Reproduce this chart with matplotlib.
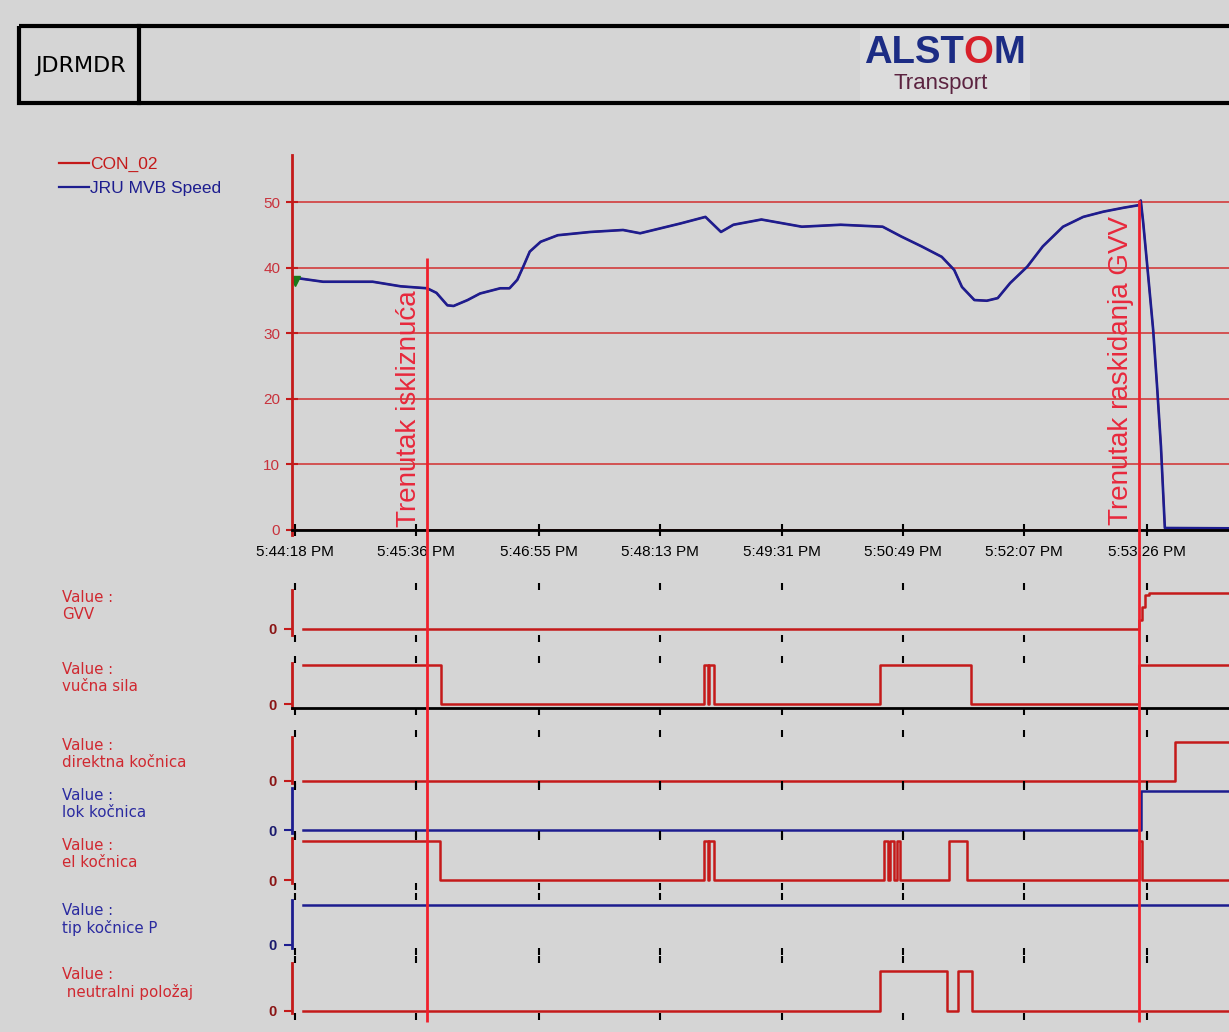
import matplotlib.pyplot as plt
from matplotlib.patches import Rectangle

plt.rcParams['font.family'] = ['Liberation Sans', 'DejaVu Sans']

W, H = 1229, 1032
BG = '#d5d5d5'
RED = '#c41a1a'
BLUE = '#1d1d8f'
TXT_RED = '#d02830'
TXT_BLUE = '#2a2aa0'

# vrijeme u sekundama od 5:44:18 PM
tick_t = [0, 78, 157, 235, 313, 391, 469, 548, 626]
tick_lbl = ['5:44:18 PM', '5:45:36 PM', '5:46:55 PM', '5:48:13 PM', '5:49:31 PM',
            '5:50:49 PM', '5:52:07 PM', '5:53:26 PM', '5:54:44 PM']

# brzina (JRU MVB Speed / CON_02)
speed_t = [0, 18, 50, 68, 85, 91, 98, 102, 111, 119,
           132, 138, 143, 147, 151, 158, 169, 190, 211, 222,
           248, 264, 274, 282, 300, 326, 351, 378, 390, 403,
           416, 424, 429, 437, 445, 452, 460, 471, 481, 494,
           507, 520, 533, 543, 544, 545.5, 548, 552, 554.5, 557,
           559.5, 646]
speed_v = [38.5, 37.9, 37.9, 37.2, 36.9, 36.2, 34.3, 34.2, 35.1, 36.1,
           36.9, 36.9, 38.2, 40.3, 42.5, 44.0, 45.0, 45.5, 45.8, 45.3,
           46.8, 47.8, 45.5, 46.6, 47.4, 46.3, 46.6, 46.3, 44.8, 43.3,
           41.7, 39.7, 37.1, 35.1, 35.0, 35.4, 37.7, 40.2, 43.3, 46.3,
           47.8, 48.6, 49.2, 49.6, 50.3, 47.1, 40.8, 30.5, 21.9, 12.7,
           0.3, 0.2]
marker_t = [0]
marker_v = [38.0]

# digitalni signali (step)
gvv_t = [5, 543, 544.5, 546.5, 549, 646]
gvv_v = [0, 0.25, 0.6, 0.95, 1, 1]
vucna_t = [5, 94, 263, 265.5, 266.5, 269.5, 376.5, 435, 543, 646]
vucna_v = [1, 0, 1, 0, 1, 0, 1, 0, 1, 1]
direktna_t = [5, 566, 646]
direktna_v = [0, 1, 1]
lok_t = [5, 544, 646]
lok_v = [0, 1, 1]
el_t = [5, 93, 263, 265.5, 266.5, 269.5, 379, 381.5, 383, 385.5, 387, 389, 420.5, 432, 543, 544.5, 646]
el_v = [1, 0, 1, 0, 1, 0, 1, 0, 1, 0, 1, 0, 1, 0, 1, 0, 0]
tip_t = [5, 646]
tip_v = [1, 1]
neutral_t = [5, 376.5, 419.5, 426.5, 435.5, 646]
neutral_v = [0, 1, 0, 1, 0, 0]

event_t = [85, 543]
event_lbl = ['Trenutak iskliznuća', 'Trenutak raskidanja GVV']

# piksel -> sekunde
X0, PPS = 295, 1.5547
L_PX, R_PX = 292, 1300
xlim = ((L_PX - X0) / PPS, (R_PX - X0) / PPS)


def fx(px):
    return px / W


def fy(py):
    return 1 - py / H


fig = plt.figure(figsize=(W / 100, H / 100), dpi=100, facecolor=BG)

# okvir za tekst i zaglavlje, u pikselima
lay = fig.add_axes([0, 0, 1, 1])
lay.set_xlim(0, W)
lay.set_ylim(H, 0)
lay.axis('off')
lay.add_patch(Rectangle((19, 26), 1300, 77, fill=False, ec='black', lw=3))
lay.plot([139, 139], [26, 103], color='black', lw=3)
lay.add_patch(Rectangle((860, 29), 170, 72, fc='#dcdcdc', ec='none'))
lay.text(80, 66, 'JDRMDR', ha='center', va='center', fontsize=16, family='DejaVu Sans')
a1 = lay.text(864, 63, 'ALST', fontsize=27.5, fontweight='bold', color='#1c2c84', va='baseline')
a2 = lay.annotate('O', xy=(1, 0), xycoords=a1, va='bottom', fontsize=27.5, fontweight='bold', color='#d8202a')
lay.annotate('M', xy=(1, 0), xycoords=a2, va='bottom', fontsize=27.5, fontweight='bold', color='#1c2c84')
lay.text(941, 84, 'Transport', ha='center', va='center', fontsize=16, color='#5b2340')

# gornji graf: brzina
ax = fig.add_axes([fx(L_PX), fy(535.2), fx(R_PX) - fx(L_PX), fy(155) - fy(535.2)])
ax.set_facecolor('none')
ax.plot(speed_t, speed_v, color=RED, lw=1.3, label='CON_02')
ax.plot(speed_t, speed_v, color=BLUE, lw=1.9, label='JRU MVB Speed')
ax.plot(marker_t, marker_v, marker='v', color='#1a7a1a', ms=7, ls='none')
ax.set_xlim(xlim)
ax.set_ylim(-0.8, 57.25)
ax.set_yticks(range(0, 60, 10))
ax.set_xticks(tick_t)
ax.set_xticklabels(tick_lbl)
ax.grid(axis='y', color='#d23c3c', lw=1.2)
ax.set_axisbelow(True)
for s in ['top', 'right']:
    ax.spines[s].set_visible(False)
ax.spines['left'].set_color(RED)
ax.spines['left'].set_linewidth(2)
ax.spines['bottom'].set_position(('data', 0))
ax.spines['bottom'].set_color('black')
ax.spines['bottom'].set_linewidth(2)
ax.tick_params(axis='x', direction='inout', length=9, width=1.5, color='black', labelsize=11, pad=6)
ax.tick_params(axis='y', direction='inout', length=9, width=1.5, color=RED, labelcolor='#c8323c', labelsize=11, pad=4)
leg = ax.legend(loc='upper left', bbox_to_anchor=(fx(59), fy(157)), bbox_transform=fig.transFigure,
                frameon=False, fontsize=12.5, handlelength=1.75, handletextpad=0.05, labelspacing=0.52,
                labelcolor='linecolor', borderaxespad=0, borderpad=0)
for ln in leg.get_lines():
    ln.set_linewidth(1.6)

# donji grafovi: signali
panels = [
    ('Value :\nGVV', RED, TXT_RED, gvv_t, gvv_v, (590, 635, 629, 593), 590),
    ('Value :\nvučna sila', RED, TXT_RED, vucna_t, vucna_v, (663, 708, 704, 665), 662),
    ('Value :\ndirektna kočnica', RED, TXT_RED, direktna_t, direktna_v, (737, 783, 781, 742), 738),
    ('Value :\nlok kočnica', BLUE, TXT_BLUE, lok_t, lok_v, (788, 833, 830, 791), 788),
    ('Value :\nel kočnica', RED, TXT_RED, el_t, el_v, (838, 883, 880, 841), 838),
    ('Value :\ntip kočnice P', BLUE, TXT_BLUE, tip_t, tip_v, (900, 948, 945, 905), 903),
    ('Value :\n neutralni položaj', RED, TXT_RED, neutral_t, neutral_v, (963, 1013, 1011, 971), 967),
]
for i, (lbl, col, tcol, ts, vs, (top, bot, zero, one), lab_y) in enumerate(panels):
    a = fig.add_axes([fx(L_PX), fy(bot), fx(R_PX) - fx(L_PX), fy(top) - fy(bot)])
    a.set_facecolor('none')
    a.step(ts, vs, where='post', color=col, lw=1.8)
    a.set_xlim(xlim)
    span = zero - one
    a.set_ylim((zero - bot) / span, (zero - top) / span)
    for s in ['top', 'right', 'bottom']:
        a.spines[s].set_visible(False)
    a.spines['left'].set_color(col)
    a.spines['left'].set_linewidth(2)
    if i == 1:
        a.spines['bottom'].set_visible(True)
        a.spines['bottom'].set_color('black')
        a.spines['bottom'].set_linewidth(2)
    a.set_yticks([0])
    a.set_yticklabels(['0'], fontweight='bold')
    a.tick_params(axis='y', direction='out', length=6, width=1.5, color=col,
                  labelcolor='#8a1414' if col == RED else '#1a1a6e', labelsize=10.5, pad=5)
    a.set_xticks(tick_t)
    a.tick_params(axis='x', bottom=True, top=True, labelbottom=False, direction='out',
                  length=5, width=1.5, color='black')
    lay.text(62, lab_y, lbl, va='top', ha='left', fontsize=10.8, family='DejaVu Sans',
             color=tcol, linespacing=1.15)

# trenuci dogadjaja
ov = fig.add_axes([fx(L_PX), 0, fx(R_PX) - fx(L_PX), 1])
ov.set_xlim(xlim)
ov.set_ylim(H, 0)
ov.axis('off')
for t, lbl, top, tb in zip(event_t, event_lbl, [258, 200], [527, 525]):
    ov.vlines(t, top, 1022, color='#f0202c', lw=2)
    ov.annotate(lbl, xy=(t, tb), xytext=(-4, 0), textcoords='offset points', rotation=90,
                ha='right', va='bottom', fontsize=20, color='#e8283c')

fig.savefig('out.png', dpi=100, facecolor=BG)
